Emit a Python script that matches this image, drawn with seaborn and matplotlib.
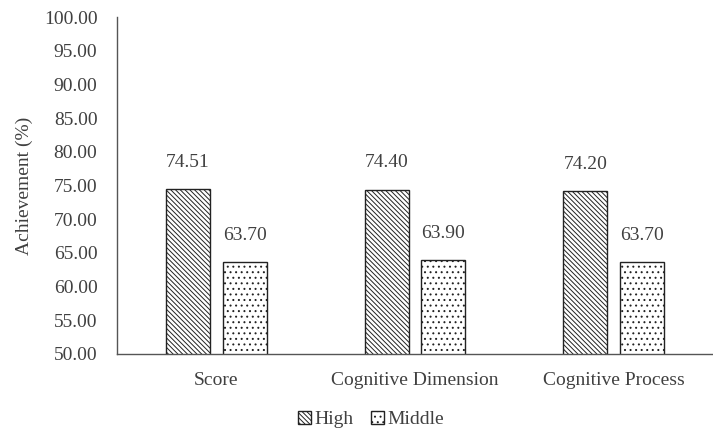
import pandas as pd
import matplotlib.pyplot as plt
import seaborn as sns
from matplotlib.patches import Patch

# data
categories = ['Score', 'Cognitive Dimension', 'Cognitive Process']
groups = ['High', 'Middle']
high_vals = [74.51, 74.40, 74.20]
middle_vals = [63.70, 63.90, 63.70]
y_ticks = [50, 55, 60, 65, 70, 75, 80, 85, 90, 95, 100]

df = pd.DataFrame({
    'Category': categories * 2,
    'Group': ['High'] * 3 + ['Middle'] * 3,
    'Achievement': high_vals + middle_vals,
})

sns.set_style('white')
plt.rcParams['font.family'] = ['Liberation Serif', 'DejaVu Serif']
plt.rcParams['hatch.linewidth'] = 0.7
txt = '#404040'
fs = 14

fig = plt.figure(figsize=(7.13, 4.37), dpi=100)
ax = fig.add_axes([0.164, 0.19, 0.836, 0.771])

sns.barplot(data=df, x='Category', y='Achievement', hue='Group', order=categories,
            hue_order=groups, palette=['white', 'white'], width=0.57, gap=0.22,
            edgecolor='#222222', linewidth=1.0, legend=False, ax=ax)

hatches = ['\\\\\\\\\\\\\\', '...']
for cont, h in zip(ax.containers, hatches):
    for p in cont:
        p.set_hatch(h)
    ax.bar_label(cont, fmt='%.2f', padding=13, fontsize=fs, color=txt)

ax.set_ylim(50, 100)
ax.set_xlim(-0.5, 2.5)
ax.set_yticks(y_ticks)
ax.set_yticklabels([f'{v:.2f}' for v in y_ticks], fontsize=fs, color=txt)
ax.tick_params(axis='x', labelsize=fs, labelcolor=txt, length=0, pad=13)
ax.tick_params(axis='y', length=0, pad=14)
ax.set_xlabel('')
ax.set_ylabel('Achievement (%)', fontsize=fs, color=txt, labelpad=8)
for s in ['top', 'right']:
    ax.spines[s].set_visible(False)
for s in ['left', 'bottom']:
    ax.spines[s].set_color('#555555')
    ax.spines[s].set_linewidth(1.0)

handles = [Patch(facecolor='white', edgecolor='#222222', hatch=h, label=g)
           for h, g in zip(hatches, groups)]
fig.legend(handles=handles, loc='center', bbox_to_anchor=(0.52, 0.04), ncol=2,
           frameon=False, fontsize=fs, handlelength=0.7, handleheight=0.7,
           handletextpad=0.15, columnspacing=0.9, labelcolor=txt)

fig.savefig('out.png', dpi=100)
